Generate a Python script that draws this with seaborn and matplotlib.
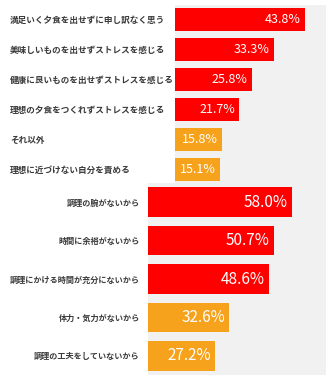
import matplotlib
matplotlib.use("Agg")
import matplotlib.pyplot as plt
import matplotlib.transforms as mtransforms
import seaborn as sns
import pandas as pd

top_labels = ["満足いく夕食を出せずに申し訳なく思う", "美味しいものを出せずストレスを感じる",
              "健康に良いものを出せずストレスを感じる", "理想の夕食をつくれずストレスを感じる",
              "それ以外", "理想に近づけない自分を責める"]
top_values = [43.8, 33.3, 25.8, 21.7, 15.8, 15.1]
top_groups = ["主", "主", "主", "主", "副", "副"]

bot_labels = ["調理の腕がないから", "時間に余裕がないから", "調理にかける時間が充分にないから",
              "体力・気力がないから", "調理の工夫をしていないから"]
bot_values = [58.0, 50.7, 48.6, 32.6, 27.2]
bot_groups = ["主", "主", "主", "副", "副"]

RED = "#ff0000"
ORANGE = "#f7a21c"
BG = "#f1f1f1"
palette = {"主": RED, "副": ORANGE}

sns.set_theme(style="white")
plt.rcParams['font.family'] = ['Noto Sans CJK JP', 'DejaVu Sans']

W, H = 326, 382
fig = plt.figure(figsize=(W / 100, H / 100), dpi=100)
fig.patch.set_facecolor("white")

def px_axes(x0, y0, x1, y1):
    return fig.add_axes([x0 / W, 1 - y1 / H, (x1 - x0) / W, (y1 - y0) / H])

def draw(ax, labels, values, groups, xmax, width, vfs, lfs, left_labels):
    df = pd.DataFrame({"label": labels, "value": values, "group": groups})
    sns.barplot(data=df, x="value", y="label", hue="group", palette=palette,
                dodge=False, legend=False, width=width, ax=ax, saturation=1,
                linewidth=0)
    ax.set_facecolor(BG)
    ax.set_xlim(0, xmax)
    ax.set_ylim(len(labels) - 0.5, -0.5)
    ax.set_xlabel("")
    ax.set_ylabel("")
    ax.set_xticks([])
    for s in ax.spines.values():
        s.set_visible(False)
    ax.tick_params(axis="y", length=0)
    if left_labels:
        ax.tick_params(axis="y", pad=119)
        for t in ax.get_yticklabels():
            t.set_horizontalalignment("left")
    else:
        ax.tick_params(axis="y", pad=6)
    for t in ax.get_yticklabels():
        t.set_fontsize(lfs)
        t.set_color("#3a3a3a")
        t.set_fontweight("bold")
    off = mtransforms.offset_copy(ax.transData, fig=fig, x=-4, y=0, units="dots")
    for p in ax.patches:
        w = p.get_width()
        if w <= 0:
            continue
        yc = p.get_y() + p.get_height() / 2
        ax.text(w, yc, f"{w:.1f}%", transform=off, ha="right", va="center",
                color="white", fontsize=vfs)

ax1 = px_axes(175, 4.5, 326, 184.5)
draw(ax1, top_labels, top_values, top_groups, 151 / 2.97, 0.77, 9, 6.2, True)

ax2 = px_axes(148, 183, 326, 375)
draw(ax2, bot_labels, bot_values, bot_groups, 178 / 2.48, 0.77, 11, 5.85, False)

fig.savefig("out.png", dpi=100, facecolor="white")
